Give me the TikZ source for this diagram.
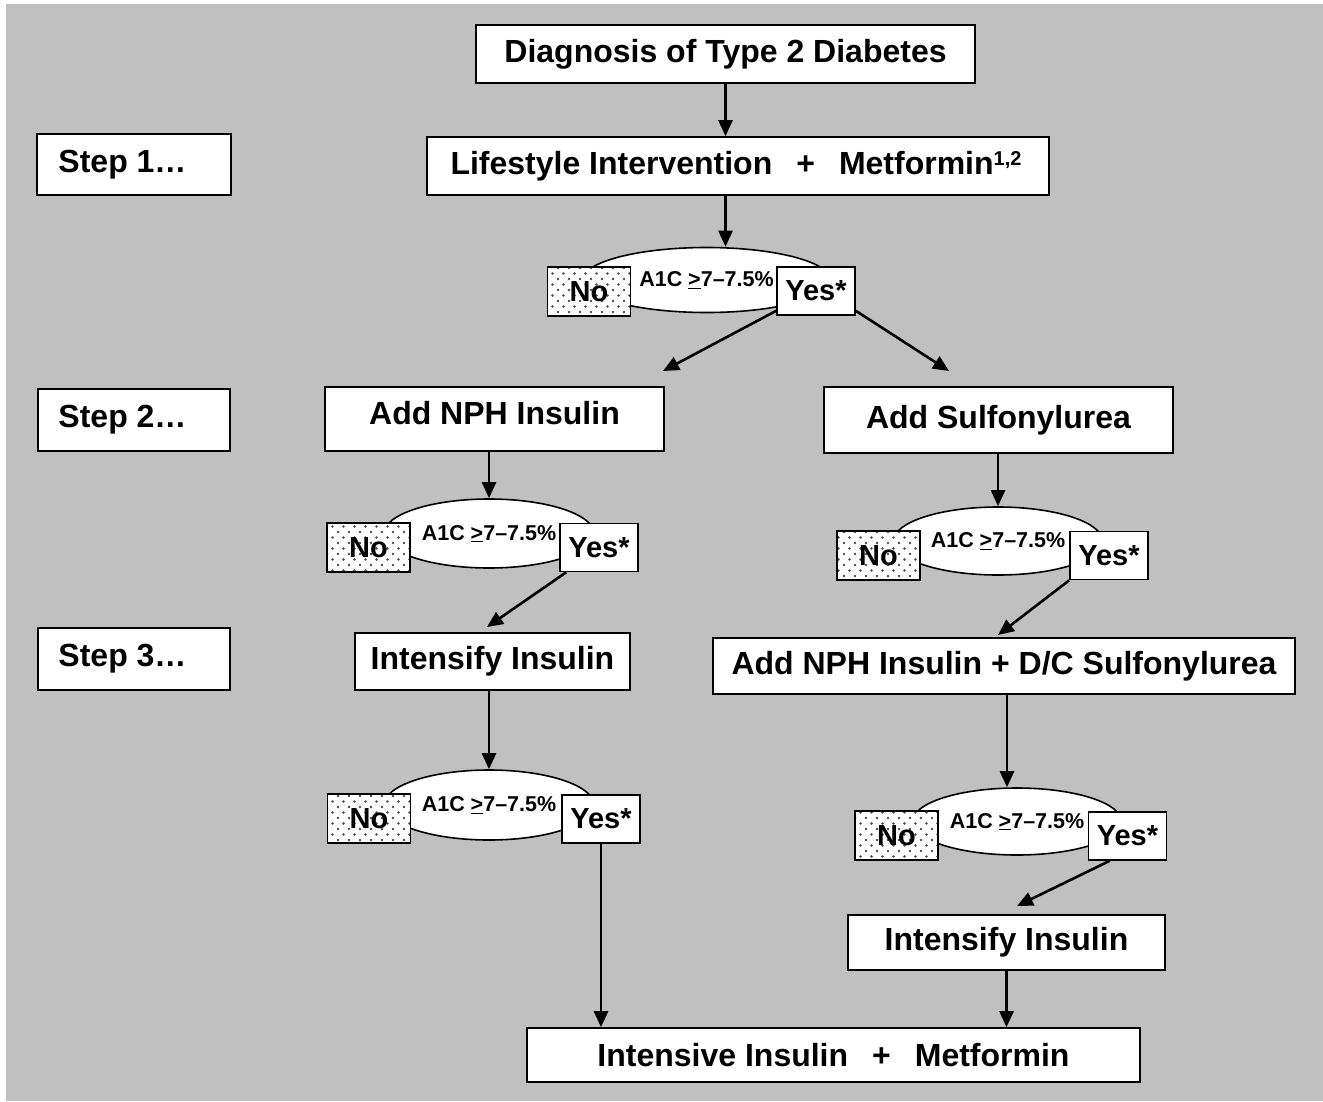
\documentclass[tikz,border=0pt]{standalone}
\usepackage{fontspec}
\setmainfont{Liberation Sans}
\usetikzlibrary{shapes.geometric,arrows.meta,patterns,calc}
\pgfdeclarepatternformonly{stipple}{\pgfpoint{-1pt}{-1pt}}{\pgfpoint{12pt}{12pt}}{\pgfpoint{11pt}{11pt}}{%
  \pgfpathcircle{\pgfpoint{2.5pt}{2.5pt}}{1.3pt}%
  \pgfpathcircle{\pgfpoint{8pt}{8pt}}{1.3pt}%
  \pgfusepath{fill}}
\definecolor{bggray}{RGB}{192,192,192}
\newcommand{\gesym}{\underline{>}}
\begin{document}
\begin{tikzpicture}[x=1pt,y=-1pt,
  box/.style={draw=black, line width=1.6pt, fill=white, inner sep=0pt,
    font=\fontsize{32}{36}\selectfont\bfseries},
  dec/.style={ellipse, draw=black, line width=1.6pt, fill=white, inner sep=0pt,
    font=\fontsize{21.5}{24}\selectfont\bfseries},
  nobox/.style={draw=black, line width=1.6pt, inner sep=0pt, preaction={fill=white},
    pattern=stipple, pattern color=black!70, minimum width=83pt, minimum height=49pt,
    font=\fontsize{29}{30}\selectfont\bfseries},
  yesbox/.style={draw=black, line width=1.6pt, fill=white, inner sep=0pt,
    minimum width=78pt, minimum height=48pt,
    font=\fontsize{29}{30}\selectfont\bfseries},
  arr/.style={line width=2.6pt, -{Triangle[length=16pt,width=14pt]}}
]
\useasboundingbox (0,0) rectangle (1323,1101);
\fill[bggray] (6,4) rectangle (1323,1101);

% main boxes
\node[box, minimum width=499pt, minimum height=58pt] (diag) at (725.5,54) {Diagnosis of Type 2 Diabetes};
\node[box, minimum width=622pt, minimum height=58pt] (life) at (738,166)
  {Lifestyle Intervention\hspace{0.75em}+\hspace{0.75em}Metformin\raisebox{9pt}{\fontsize{20}{22}\selectfont\bfseries 1,2}\hspace{4pt}\mbox{}};
\node[box, minimum width=194pt, minimum height=61pt] (step1) at (134,164.5) {Step 1\ldots\hspace{23pt}\mbox{}};
\node[box, minimum width=192pt, minimum height=62pt] (step2) at (134,420) {Step 2\ldots\hspace{23pt}\mbox{}};
\node[box, minimum width=192pt, minimum height=62pt] (step3) at (134,659) {Step 3\ldots\hspace{23pt}\mbox{}};
\node[box, minimum width=339pt, minimum height=64pt, text height=23pt, text depth=12pt] (nph) at (494.5,419) {Add NPH Insulin};
\node[box, minimum width=349pt, minimum height=66pt] (sulf) at (998.5,420) {Add Sulfonylurea};
\node[box, minimum width=275pt, minimum height=57pt] (int1) at (492.5,661.5) {Intensify Insulin};
\node[box, minimum width=582pt, minimum height=56pt] (nphdc) at (1004,666) {Add NPH Insulin + D/C Sulfonylurea};
\node[box, minimum width=317pt, minimum height=55pt] (int2) at (1006.5,942.5) {Intensify Insulin};
\node[box, minimum width=613pt, minimum height=54pt] (final) at (833.5,1055)
  {Intensive Insulin\hspace{0.75em}+\hspace{0.75em}Metformin};

% decisions
\node[dec, minimum width=248pt, minimum height=65pt] (e1) at (706.5,280) {A1C \gesym7--7.5\%};
\node[nobox] (no1) at (589,291.5) {No};
\node[yesbox] (yes1) at (816,291) {Yes*};

\node[dec, minimum width=210pt, minimum height=69pt] (e2) at (489,533.5) {A1C \gesym7--7.5\%};
\node[nobox] (no2) at (368.5,547.5) {No};
\node[yesbox] (yes2) at (599,547.5) {Yes*};

\node[dec, minimum width=210pt, minimum height=70pt] (e3) at (489,805) {A1C \gesym7--7.5\%};
\node[nobox] (no3) at (369,818.5) {No};
\node[yesbox] (yes3) at (601,819) {Yes*};

\node[dec, minimum width=209pt, minimum height=68pt] (e4) at (998,541) {A1C \gesym7--7.5\%};
\node[nobox] (no4) at (878.5,555.5) {No};
\node[yesbox] (yes4) at (1109,555.5) {Yes*};

\node[dec, minimum width=209pt, minimum height=67pt] (e5) at (1017,821.5) {A1C \gesym7--7.5\%};
\node[nobox] (no5) at (896.5,835.5) {No};
\node[yesbox] (yes5) at (1127.5,836) {Yes*};

% free arrow ends
\coordinate (t1) at (663,371);
\coordinate (t2) at (949,371);
\coordinate (t3) at (487,627);
\coordinate (t5) at (998,635);
\coordinate (t6) at (1017,906);
\coordinate (c5) at (1007,0);

% connectors
\draw[arr] (diag.south) -- (diag.south |- life.north);
\draw[arr] (diag.south |- life.south) -- (diag.south |- e1.north);
\draw[arr] ($(yes1.south west)+(0,-5)$) -- (t1);
\draw[arr] ($(yes1.south east)+(0,-5)$) -- (t2);
\draw[arr] (nph.south -| e2.north) -- (e2.north);
\draw[arr] (sulf.south -| e4.north) -- (e4.north);
\draw[arr] ($(yes2.south west)+(7,0)$) -- (t3);
\draw[arr] (yes4.south west) -- (t5);
\draw[arr] (int1.south -| e3.north) -- (e3.north);
\draw[arr] (nphdc.south -| c5) -- (e5.north -| c5);
\draw[arr] (yes3.south) -- (yes3.south |- final.north);
\draw[arr] ($(yes5.south west)+(22,0)$) -- (t6);
\draw[arr] (int2.south) -- (int2.south |- final.north);
\end{tikzpicture}
\end{document}
